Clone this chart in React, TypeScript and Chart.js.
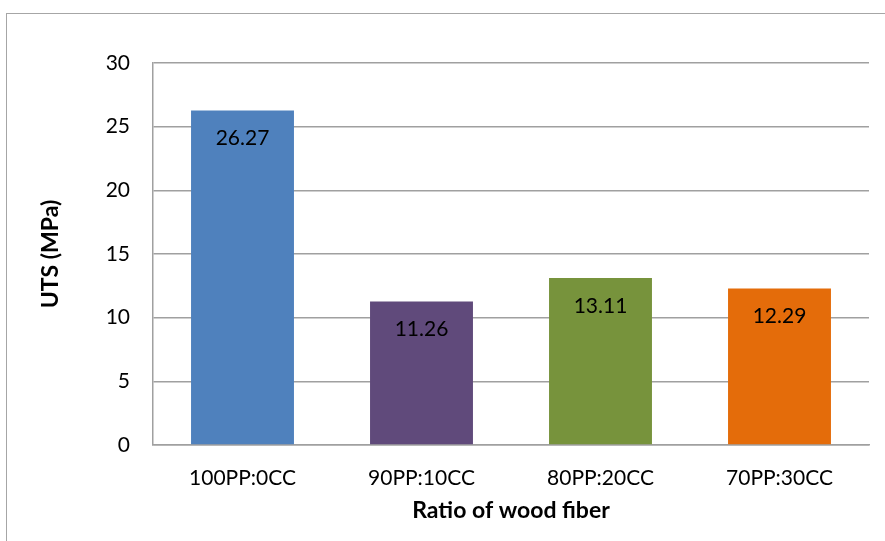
import React, { useEffect, useRef } from "react";
import { Chart, registerables } from "chart.js";

Chart.register(...registerables);

const categories = ["100PP:0CC", "90PP:10CC", "80PP:20CC", "70PP:30CC"];
const utsValues = [26.27, 11.26, 13.11, 12.29];
const barColors = ["#4F81BD", "#604A7B", "#77933C", "#E46C0A"];
const yTicks = [0, 5, 10, 15, 20, 25, 30];

const FONT = "Lato, 'Open Sans', sans-serif";

// Writes each bar's value just inside its top edge
const valueLabels = {
  id: "valueLabels",
  afterDatasetsDraw(chart: any) {
    const { ctx } = chart;
    const meta = chart.getDatasetMeta(0);
    const data = chart.data.datasets[0].data as number[];
    ctx.save();
    ctx.font = `21px ${FONT}`;
    ctx.fillStyle = "#000";
    ctx.textAlign = "center";
    ctx.textBaseline = "middle";
    meta.data.forEach((bar: any, i: number) => {
      ctx.fillText(data[i].toFixed(2), bar.x, bar.y + 28);
    });
    ctx.restore();
  },
};

export default function App() {
  const canvasRef = useRef<HTMLCanvasElement | null>(null);

  useEffect(() => {
    if (!canvasRef.current) return;
    const chart = new Chart(canvasRef.current, {
      type: "bar",
      data: {
        labels: categories,
        datasets: [
          {
            data: utsValues,
            backgroundColor: barColors,
            borderWidth: 0,
            barPercentage: 0.575,
            categoryPercentage: 1,
          },
        ],
      },
      options: {
        animation: false,
        responsive: false,
        devicePixelRatio: 1,
        layout: { padding: { left: 0, right: 16, top: 63, bottom: 0 } },
        plugins: {
          legend: { display: false },
          tooltip: { enabled: false },
        },
        scales: {
          x: {
            grid: { display: false, drawTicks: false },
            border: { display: true, color: "#a0a0a0", width: 1.5 },
            ticks: {
              color: "#000",
              font: { family: FONT, size: 21 },
              padding: 21,
            },
            title: {
              display: true,
              text: "Ratio of wood fiber",
              color: "#000",
              font: { family: FONT, size: 23, weight: "bold" },
              padding: { top: 0, bottom: 17 },
            },
            afterFit(scale: any) {
              scale.height = 96;
            },
          },
          y: {
            min: 0,
            max: 30,
            afterBuildTicks(scale: any) {
              scale.ticks = yTicks.map((v) => ({ value: v }));
            },
            grid: { color: "#a0a0a0", lineWidth: 1.5, drawTicks: false },
            border: { display: true, color: "#a0a0a0", width: 1.5 },
            ticks: {
              color: "#000",
              font: { family: FONT, size: 21 },
              padding: 23,
            },
            title: {
              display: true,
              text: "UTS (MPa)",
              color: "#000",
              font: { family: FONT, size: 23, weight: "bold" },
              padding: { top: 37, bottom: 0 },
            },
            afterFit(scale: any) {
              scale.width = 153;
            },
          },
        },
      },
      plugins: [valueLabels],
    });
    return () => chart.destroy();
  }, []);

  return (
    <div
      style={{
        position: "fixed",
        left: 0,
        top: 0,
        width: 885,
        height: 541,
        background: "#fff",
        overflow: "hidden",
      }}
    >
      <div
        style={{
          position: "absolute",
          left: 6,
          top: 13,
          width: 920,
          height: 600,
          border: "1.5px solid #a6a6a6",
        }}
      />
      <canvas
        ref={canvasRef}
        width={885}
        height={541}
        style={{ position: "absolute", left: 0, top: 0 }}
      />
    </div>
  );
}
